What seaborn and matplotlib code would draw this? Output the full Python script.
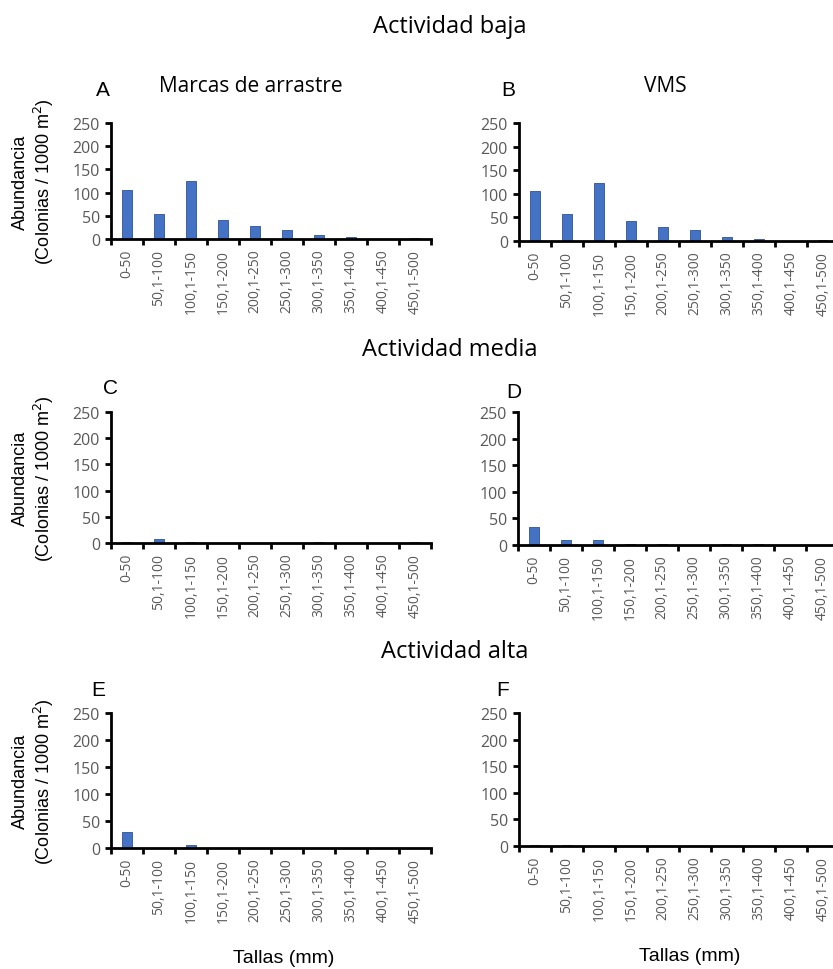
import numpy as np
import pandas as pd
import matplotlib
matplotlib.use("Agg")
import matplotlib.pyplot as plt
import seaborn as sns

# data
tallas = ["0-50", "50,1-100", "100,1-150", "150,1-200", "200,1-250",
          "250,1-300", "300,1-350", "350,1-400", "400,1-450", "450,1-500"]
baja_marcas = [106, 54, 124, 40, 28, 20, 8, 5, 0, 2]
baja_vms = [106, 57, 123, 43, 29, 23, 8, 5, 0, 2]
media_marcas = [1, 8, 1, 0, 0, 0, 1, 0, 0, 1]
media_vms = [33, 10, 10, 1, 1, 0, 1, 1, 0, 0]
alta_marcas = [30, 0, 5, 0, 0, 0, 0, 0, 0, 0]
alta_vms = [2, 2, 0, 0, 0, 0, 0, 0, 0, 0]

sns.set_style("white")
plt.rcParams['font.family'] = ['Open Sans', 'DejaVu Sans']
plt.rcParams['text.color'] = 'black'

fig = plt.figure(figsize=(8.33, 9.70), dpi=100)
W, H = 833.0, 970.0

# (left px, y of 250 px, y of 0 px)
panels = [
    ("A", baja_marcas, 111, 124, 240),
    ("B", baja_vms, 519, 124, 242),
    ("C", media_marcas, 111, 413, 544),
    ("D", media_vms, 518, 413, 546),
    ("E", alta_marcas, 111, 714, 849),
    ("F", alta_vms, 519, 714, 847),
]
label_pos = {"A": (103, 90), "B": (508, 90), "C": (110, 388),
             "D": (514, 392), "E": (98, 690), "F": (503, 690)}

bar_color = "#4472C4"
grey = "#595959"

for letter, vals, left, top, bottom in panels:
    ax = fig.add_axes([left / W, 1 - bottom / H, 320 / W, (bottom - top) / H])
    df = pd.DataFrame({"talla": tallas, "abundancia": vals})
    sns.barplot(data=df, x="talla", y="abundancia", ax=ax, color=bar_color,
                width=0.32, edgecolor="#2F528F", linewidth=0.6, saturation=1)
    ax.set_xlim(-0.5, 9.5)
    ax.set_ylim(0, 250)
    ax.set_yticks([0, 50, 100, 150, 200, 250])
    ax.set_xticks(np.arange(-0.5, 10, 1))
    ax.set_xticklabels([])
    ax.set_xticks(np.arange(10), minor=True)
    ax.set_xticklabels(tallas, minor=True, rotation=90, fontsize=10, color=grey)
    ax.tick_params(axis="x", which="major", bottom=True, length=4, width=2,
                   color="black", direction="out")
    ax.tick_params(axis="x", which="minor", bottom=True, length=0, pad=7)
    ax.tick_params(axis="y", left=True, length=4, width=2, color="black",
                   labelsize=11.5, labelcolor=grey, pad=4)
    ax.set_xlabel("")
    ax.set_ylabel("")
    sns.despine(ax=ax)
    for side in ["left", "bottom"]:
        ax.spines[side].set_linewidth(2)
        ax.spines[side].set_color("black")
    lx, ly = label_pos[letter]
    fig.text(lx / W, 1 - ly / H, letter, fontsize=15, family="Liberation Sans",
             ha="center", va="center")
    if left < 300:
        cy = 1 - (top + bottom) / 2 / H
        fig.text(20 / W, cy, "Abundancia", rotation=90, fontsize=13,
                 family="Liberation Sans", ha="center", va="center")
        fig.text(44 / W, cy, "(Colonias / 1000 m$^{2}$)", rotation=90,
                 fontsize=13, family="Liberation Sans", ha="center", va="center")

fig.text(450 / W, 1 - 27 / H, "Actividad baja", fontsize=17, ha="center", va="center")
fig.text(450 / W, 1 - 350 / H, "Actividad media", fontsize=17, ha="center", va="center")
fig.text(455 / W, 1 - 652 / H, "Actividad alta", fontsize=17, ha="center", va="center")
fig.text(251 / W, 1 - 87 / H, "Marcas de arrastre", fontsize=15, ha="center", va="center")
fig.text(665 / W, 1 - 87 / H, "VMS", fontsize=15, ha="center", va="center")
fig.text(284 / W, 1 - 959 / H, "Tallas (mm)", fontsize=14, family="Liberation Sans",
         ha="center", va="center")
fig.text(690 / W, 1 - 957 / H, "Tallas (mm)", fontsize=14, family="Liberation Sans",
         ha="center", va="center")

fig.savefig("out.png", dpi=100)
